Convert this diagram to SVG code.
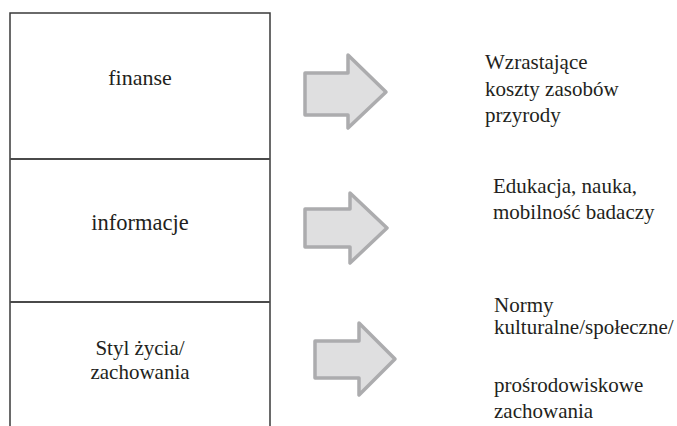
<svg xmlns="http://www.w3.org/2000/svg" width="677" height="426" viewBox="0 0 677 426">
<style>
text{font-family:'Liberation Serif','Times New Roman',Times,serif;fill:#231f20;}
.c{text-anchor:middle;}
.box{fill:none;stroke:#3a3a3a;stroke-width:1.5;}
.div{stroke:#4a4a4a;stroke-width:2;}
.arr{fill:#dfdfe0;stroke:#acacae;stroke-width:3.5;stroke-linejoin:round;}
</style>
<rect width="677" height="426" fill="#ffffff"/>
<g id="frame">
<path class="box" d="M10,426 V13 H270 V426"/>
<line class="div" x1="10" y1="159" x2="270" y2="159"/>
<line class="div" x1="10" y1="302" x2="270" y2="302"/>
</g>
<g font-family="Liberation Serif, serif">
<g id="node-finanse">
<text class="c" x="140" y="85" font-size="22">finanse</text>
</g>
<g id="node-informacje">
<text class="c" x="140" y="230" font-size="22.5">informacje</text>
</g>
<g id="node-styl">
<text class="c" x="140" y="355" font-size="21">Styl życia/</text>
<text class="c" x="140" y="379" font-size="21">zachowania</text>
</g>
<g id="node-koszty">
<text x="485" y="69" font-size="21">Wzrastające</text>
<text x="485" y="96" font-size="21">koszty zasobów</text>
<text x="485" y="122" font-size="21">przyrody</text>
</g>
<g id="node-edukacja">
<text x="493" y="193" font-size="21">Edukacja, nauka,</text>
<text x="493" y="219" font-size="21">mobilność badaczy</text>
</g>
<g id="node-normy">
<text x="494" y="312" font-size="21">Normy</text>
<text x="494" y="334" font-size="21">kulturalne/społeczne/</text>
<text x="494" y="392" font-size="21">prośrodowiskowe</text>
<text x="494" y="418" font-size="21">zachowania</text>
</g>
</g>
<g id="connectors">
<polygon class="arr" points="305,73 348,73 348,55 386,92 348,128 348,115 305,115"/>
<polygon class="arr" points="305,209 350,209 350,193 387,228 350,263 350,247 305,247"/>
<polygon class="arr" points="315,341 359,341 359,323 395,359 359,395 359,378 315,378"/>
</g>
</svg>
